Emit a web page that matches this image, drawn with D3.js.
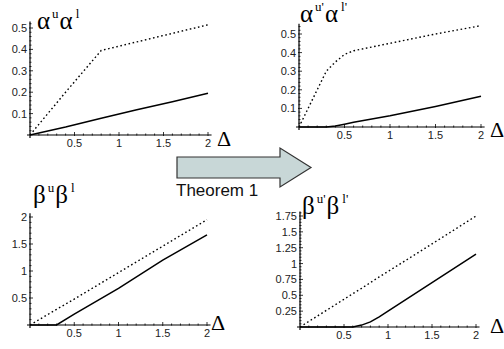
<!DOCTYPE html>
<html>
<head>
<meta charset="utf-8">
<script src="https://cdn.jsdelivr.net/npm/d3@7"></script>
<style>
  body { margin: 0; background: #fff; }
  svg { display: block; }
</style>
</head>
<body>
<div id="chart"></div>
<script>
// values
const xTicks = [0.5, 1, 1.5, 2];

// top left: alpha^u (dotted), alpha^l (solid)
const alphaDelta = [0, 0.4, 0.8, 1.2, 1.6, 2];
const alphaU = [0, 0.2, 0.395, 0.435, 0.475, 0.515];
const alphaL = [0, 0.037, 0.078, 0.118, 0.155, 0.195];
const alphaTicks = [0.1, 0.2, 0.3, 0.4, 0.5];

// top right: alpha^u' (dotted), alpha^l' (solid)
const alphaPDelta = [0, 0.3, 0.4, 0.5, 0.6, 1, 1.5, 2];
const alphaUP = [0, 0.30, 0.35, 0.39, 0.41, 0.45, 0.50, 0.545];
const alphaLP = [0, 0, 0.005, 0.015, 0.025, 0.06, 0.11, 0.165];

// bottom left: beta^u (dotted), beta^l (solid)
const betaDelta = [0, 0.3, 0.5, 1, 1.5, 2];
const betaU = [0, 0.29, 0.48, 0.97, 1.46, 1.95];
const betaL = [0, 0, 0.2, 0.68, 1.2, 1.67];
const betaTicks = [0.5, 1, 1.5, 2];

// bottom right: beta^u' (dotted), beta^l' (solid)
const betaPDelta = [0, 0.6, 0.7, 0.8, 0.9, 1, 1.5, 2];
const betaUP = [0, 0.525, 0.61, 0.70, 0.79, 0.875, 1.31, 1.75];
const betaLP = [0, 0, 0.03, 0.08, 0.16, 0.25, 0.7, 1.15];
const betaPTicks = [0.25, 0.5, 0.75, 1, 1.25, 1.5, 1.75];

const w = 504, h = 349;
const svg = d3.select("#chart").append("svg").attr("width", w).attr("height", h);

const panels = [
  { x0: 30, x1: 208, y0: 135, yTop: 0.5, yTopPx: 28, yMax: 0.53, minor: 0.02,
    ticks: alphaTicks, delta: alphaDelta, upper: alphaU, lower: alphaL,
    sym: "α", p: "", lab: [37, 29], dx: 217, dy: 146 },
  { x0: 299, x1: 481, y0: 127, yTop: 0.5, yTopPx: 34, yMax: 0.555, minor: 0.02,
    ticks: alphaTicks, delta: alphaPDelta, upper: alphaUP, lower: alphaLP,
    sym: "α", p: "'", lab: [300, 22], dx: 490, dy: 137 },
  { x0: 30, x1: 207, y0: 325, yTop: 2, yTopPx: 217, yMax: 2.07, minor: 0.1,
    ticks: betaTicks, delta: betaDelta, upper: betaU, lower: betaL,
    sym: "β", p: "", lab: [33, 203], dx: 211, dy: 330 },
  { x0: 300, x1: 476, y0: 327, yTop: 1.75, yTopPx: 216, yMax: 1.82, minor: 0.05,
    ticks: betaPTicks, delta: betaPDelta, upper: betaUP, lower: betaLP,
    sym: "β", p: "'", lab: [302, 214], dx: 490, dy: 333 }
];

panels.forEach(function(pn) {
  const x = d3.scaleLinear().domain([0, 2]).range([pn.x0, pn.x1]);
  const y = d3.scaleLinear().domain([0, pn.yTop]).range([pn.y0, pn.yTopPx]);
  const g = svg.append("g");

  // x axis with minor ticks
  g.append("line").attr("x1", pn.x0 - 3).attr("x2", x(2.04))
    .attr("y1", pn.y0).attr("y2", pn.y0).attr("stroke", "#000").attr("stroke-width", 1.2);
  d3.range(1, 21).forEach(function(i) {
    const v = i / 10;
    const major = i % 5 === 0;
    g.append("line").attr("x1", x(v)).attr("x2", x(v))
      .attr("y1", pn.y0 - (major ? 3 : 1.5)).attr("y2", pn.y0 + (major ? 1 : 0.5))
      .attr("stroke", "#000").attr("stroke-width", 0.8);
  });
  g.selectAll(".xl").data(xTicks).enter().append("text")
    .attr("x", d => x(d)).attr("y", pn.y0 + 12)
    .attr("text-anchor", "middle").attr("font-family", "Liberation Sans, Arial, sans-serif")
    .attr("font-size", 11).attr("fill", "#222").text(d => String(d));

  // y axis with minor ticks
  g.append("line").attr("x1", pn.x0).attr("x2", pn.x0)
    .attr("y1", pn.y0 + 3).attr("y2", y(pn.yMax)).attr("stroke", "#000").attr("stroke-width", 1.2);
  const n = Math.floor(pn.yMax / pn.minor + 1e-6);
  d3.range(1, n + 1).forEach(function(i) {
    const v = i * pn.minor;
    const major = pn.ticks.some(t => Math.abs(t - v) < 1e-6);
    g.append("line").attr("x1", pn.x0 - (major ? 1 : 0.5)).attr("x2", pn.x0 + (major ? 3 : 1.5))
      .attr("y1", y(v)).attr("y2", y(v)).attr("stroke", "#000").attr("stroke-width", 0.8);
  });
  g.selectAll(".yl").data(pn.ticks).enter().append("text")
    .attr("x", pn.x0 - 3).attr("y", d => y(d) + 4)
    .attr("text-anchor", "end").attr("font-family", "Liberation Sans, Arial, sans-serif")
    .attr("font-size", 11).attr("fill", "#222").text(d => String(d));

  // curves
  const line = d3.line().x(d => x(d[0])).y(d => y(d[1]));
  g.append("path").datum(d3.zip(pn.delta, pn.upper)).attr("d", line)
    .attr("fill", "none").attr("stroke", "#000").attr("stroke-width", 1.4)
    .attr("stroke-dasharray", "1.6,2.6");
  g.append("path").datum(d3.zip(pn.delta, pn.lower)).attr("d", line)
    .attr("fill", "none").attr("stroke", "#000").attr("stroke-width", 1.5);

  // labels
  const t = g.append("text").attr("x", pn.lab[0]).attr("y", pn.lab[1])
    .attr("font-family", "Liberation Serif, Times New Roman, serif").attr("font-size", 25);
  t.append("tspan").text(pn.sym);
  t.append("tspan").attr("font-size", 13).attr("dx", 2).attr("dy", -11).text("u" + pn.p);
  t.append("tspan").attr("dx", 1).attr("dy", 11).text(pn.sym);
  t.append("tspan").attr("font-size", 13).attr("dx", 3).attr("dy", -11).text("l" + pn.p);

  g.append("text").attr("x", pn.dx).attr("y", pn.dy)
    .attr("font-family", "Liberation Serif, Times New Roman, serif").attr("font-size", 22)
    .text("Δ");
});

// arrow and caption between the panels
svg.append("path")
  .attr("d", "M177,157 L280,157 L280,148 L311,167.5 L280,187 L280,178 L177,178 Z")
  .attr("fill", "#c8d7d7").attr("stroke", "#333").attr("stroke-width", 1.2);
svg.append("text").attr("x", 176).attr("y", 196)
  .attr("font-family", "Liberation Sans, Arial, sans-serif").attr("font-size", 17)
  .attr("fill", "#111").text("Theorem 1");
</script>
</body>
</html>
